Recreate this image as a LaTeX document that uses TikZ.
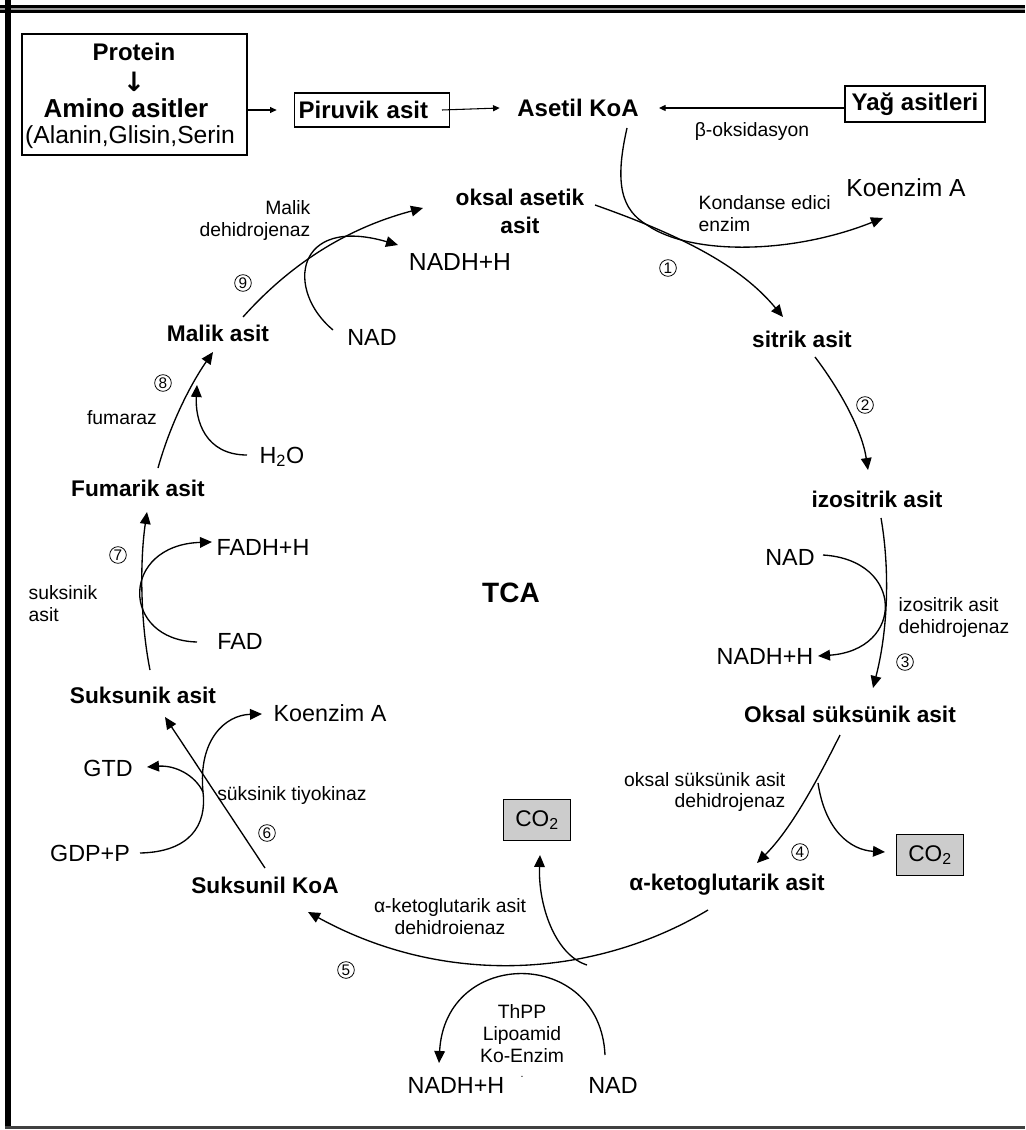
\documentclass[tikz,border=0pt]{standalone}
\usepackage{fontspec}
\setmainfont{Liberation Sans}
\newfontfamily\symfont{DejaVu Sans}
\usetikzlibrary{arrows.meta}

\begin{document}
\begin{tikzpicture}[x=0.75pt,y=-0.75pt,
  met/.style={font=\fontsize{17}{21}\selectfont\bfseries, inner sep=1pt, align=center},
  topmet/.style={font=\fontsize{18}{21}\selectfont\bfseries, inner sep=1pt},
  cof/.style={font=\fontsize{17.5}{19}\selectfont, inner sep=1pt},
  enz/.style={font=\fontsize{14.5}{16.5}\selectfont, inner sep=1pt},
  num/.style={circle, draw, line width=0.6pt, inner sep=0pt, minimum size=12.5pt,
              font=\fontsize{11.5}{11.5}\selectfont},
  flow/.style={line width=1pt, -{Triangle[length=9pt,width=8pt]}},
  feed/.style={line width=0.8pt, -{Triangle[length=5pt,width=4.5pt]}},
  side/.style={line width=1pt},
  gasbox/.style={draw, line width=1.2pt, fill=black!20, font=\fontsize{17}{19}\selectfont,
                 minimum width=50pt, minimum height=31pt, inner sep=0pt},
  srcframe/.style={draw, line width=1pt}
]
\useasboundingbox (0,0) rectangle (1025,1130);

% page frame
\fill[black] (0,5) rectangle (1025,13.5);
\fill[black!40] (0,8) rectangle (1025,10.5);
\fill[black] (5,0) rectangle (11,1129);
\fill[black!75] (5,1126) rectangle (1025,1129);

% ---------- feeding pathways ----------
\node[srcframe, minimum width=168.75pt, minimum height=90.75pt, inner sep=0pt] (src) at (134.5,94.5) {};
\node[topmet] (protein) at (134,52) {Protein};
\node[font=\symfont\bfseries\fontsize{20}{20}\selectfont, inner sep=0pt] (down) at (134,82) {↓};
\node[topmet, font=\fontsize{19.5}{21}\selectfont\bfseries] (amino) at (126,108) {Amino asitler};
\node[cof, font=\fontsize{18.5}{20}\selectfont] (alanin) at (130,137) {(Alanin,Glisin,Serin};

\node[srcframe, topmet, minimum height=25.5pt, text width=110pt, inner xsep=3pt, align=left] (piruvik) at (372,110) {Piruvik asit};
\node[topmet] (asetil) at (578,108) {Asetil KoA};
\node[srcframe, topmet, minimum height=27pt, minimum width=105pt, inner xsep=0pt] (yag) at (915,104) {Yağ asitleri};
\node[enz] (beta) at (752,132) {β-oksidasyon};

\draw[feed] (src.east |- piruvik.west) -- ([xshift=-13pt]piruvik.west);
\draw[feed] ([xshift=-6pt]piruvik.east) -- ([xshift=-12pt]asetil.west);
\draw[feed] (yag.west |- asetil.east) -- ([xshift=14pt]asetil.east);

% ---------- cycle intermediates ----------
\node[met] (oaa) at (520,211) {oksal asetik\\asit};
\node[met] (sitrik) at (802,339) {sitrik asit};
\node[met] (izo) at (877,499) {izositrik asit};
\node[met] (oksuk) at (850,714) {Oksal süksünik asit};
\node[met] (akg) at (727,885) {α-ketoglutarik asit};
\node[met] (sukkoa) at (265,885) {Suksunil KoA};
\node[met] (suksunik) at (143,695) {Suksunik asit};
\node[met] (fumarik) at (138,488) {Fumarik asit};
\node[met] (malik) at (218,333) {Malik asit};
\node[font=\fontsize{21}{24}\selectfont\bfseries] (tca) at (511,593) {TCA};

% ---------- cofactors and by-products ----------
\node[cof, font=\fontsize{18.5}{20}\selectfont] (koaTop) at (906,188) {Koenzim A};
\node[cof] (nad3) at (790,557) {NAD};
\node[cof] (nadh3) at (765,656) {NADH+H};
\node[gasbox] (co2r) at (930,855) {CO\textsubscript{2}};
\node[gasbox] (co2l) at (537,820) {CO\textsubscript{2}};
\node[cof] (nadh5) at (456,1085) {NADH+H};
\node[cof] (nad5) at (613,1085) {NAD};
\node[cof] (koa6) at (330,713) {Koenzim A};
\node[cof] (gtd) at (108,768) {GTD};
\node[cof] (gdp) at (90,853) {GDP+P};
\node[cof] (fadh) at (263,547) {FADH+H};
\node[cof] (fad) at (240,641) {FAD};
\node[cof] (h2o) at (282,457) {H\textsubscript{2}O};
\node[cof] (nad9) at (372,337) {NAD};
\node[cof, font=\fontsize{18.5}{20}\selectfont] (nadh9) at (460,262) {NADH+H};

% ---------- enzymes ----------
\node[enz, anchor=west, align=left] (kond) at (697,214) {Kondanse edici\\enzim};
\node[enz, anchor=west, align=left] (izodh) at (897,617) {izositrik asit\\dehidrojenaz};
\node[enz, anchor=east, align=right, font=\fontsize{14.5}{15.5}\selectfont] (oksdh) at (787,792) {oksal süksünik asit\\dehidrojenaz};
\node[enz, align=center] (akgdh) at (450,917) {α-ketoglutarik asit\\dehidroienaz};
\node[enz, align=center] (cofac) at (522,1034) {ThPP\\Lipoamid\\Ko-Enzim};
\node[enz, font=\fontsize{8}{8}\selectfont, inner sep=0pt] (dot) at (522,1077) {.};
\node[enz] (tiyo) at (292,795) {süksinik tiyokinaz};
\node[enz, anchor=west, align=left] (sdh) at (27,604) {suksinik\\asit};
\node[enz] (fumaraz) at (122,418) {fumaraz};
\node[enz, anchor=east, align=right] (mdh) at (312,221) {Malik\\dehidrojenaz};

% ---------- step numbers ----------
\node[num] (n1) at (668,268) {1};
\node[num] (n2) at (865,405) {2};
\node[num] (n3) at (905,662) {3};
\node[num] (n4) at (800,852) {4};
\node[num] (n5) at (346,970) {5};
\node[num] (n6) at (267,833) {6};
\node[num] (n7) at (118,555) {7};
\node[num] (n8) at (163,383) {8};
\node[num] (n9) at (243,283) {9};

% ---------- connector ends ----------
\coordinate (oaaOut) at (595,205);
\coordinate (sitIn) at (783,317);
\coordinate (asetOut) at (627,128);
\coordinate (j1) at (647,225);
\coordinate (koaIn) at (883,218);
\coordinate (sitOut) at (815,357);
\coordinate (izoIn) at (868,470);
\coordinate (izoOut) at (881,518);
\coordinate (oksIn) at (873,688);
\coordinate (nad3o) at (823,555);
\coordinate (nadh3i) at (818,656);
\coordinate (oksOut) at (840,735);
\coordinate (akgIn) at (757,863);
\coordinate (j4) at (818,783);
\coordinate (co2rIn) at (885,852);
\coordinate (akgOut) at (708,910);
\coordinate (skIn) at (308,912);
\coordinate (j5) at (587,965);
\coordinate (co2lIn) at (540,855);
\coordinate (nad5o) at (605,1055);
\coordinate (nadh5i) at (439,1063);
\coordinate (skOut) at (265,868);
\coordinate (suIn) at (165,717);
\coordinate (gdpo) at (140,853);
\coordinate (j6) at (203,792);
\coordinate (koa6i) at (262,714);
\coordinate (gtdi) at (147,767);
\coordinate (suOut) at (150,670);
\coordinate (fuIn) at (147,512);
\coordinate (fado) at (197,642);
\coordinate (fadhi) at (212,542);
\coordinate (fuOut) at (158,468);
\coordinate (maIn) at (213,352);
\coordinate (h2oo) at (247,455);
\coordinate (h2oi) at (197,385);
\coordinate (maOut) at (243,317);
\coordinate (oaaIn) at (423,208);
\coordinate (nad9o) at (333,330);
\coordinate (nadh9i) at (398,245);

% step 1: citrate synthase
\draw[flow] (oaaOut) .. controls (680,235) and (740,265) .. (sitIn);
\draw[side] (asetOut) .. controls (614,185) and (622,210) .. (j1);
\draw[flow] (j1) .. controls (690,255) and (790,255) .. (koaIn);
% step 2
\draw[flow] (sitOut) .. controls (840,390) and (862,430) .. (izoIn);
% step 3
\draw[flow] (izoOut) .. controls (890,570) and (888,630) .. (oksIn);
\draw[flow] (nad3o) .. controls (905,560) and (905,650) .. (nadh3i);
% step 4
\draw[flow] (oksOut) .. controls (815,785) and (790,830) .. (akgIn);
\draw[flow] (j4) .. controls (825,830) and (850,850) .. (co2rIn);
% step 5
\draw[flow] (akgOut) .. controls (600,975) and (450,990) .. (skIn);
\draw[flow] (j5) .. controls (555,955) and (538,905) .. (co2lIn);
\draw[flow] (nad5o) .. controls (600,947) and (445,947) .. (nadh5i);
% step 6
\draw[flow] (skOut) -- (suIn);
\draw[side] (gdpo) .. controls (190,852) and (207,825) .. (j6);
\draw[flow] (j6) .. controls (198,740) and (225,715) .. (koa6i);
\draw[flow] (j6) .. controls (195,775) and (175,765) .. (gtdi);
% step 7
\draw[flow] (suOut) .. controls (140,620) and (140,560) .. (fuIn);
\draw[flow] (fado) .. controls (120,640) and (120,545) .. (fadhi);
% step 8
\draw[flow] (fuOut) .. controls (170,425) and (190,385) .. (maIn);
\draw[flow] (h2oo) .. controls (205,455) and (195,420) .. (h2oi);
% step 9
\draw[flow] (maOut) .. controls (285,270) and (340,230) .. (oaaIn);
\draw[flow] (nad9o) .. controls (285,290) and (295,215) .. (nadh9i);
\end{tikzpicture}
\end{document}
